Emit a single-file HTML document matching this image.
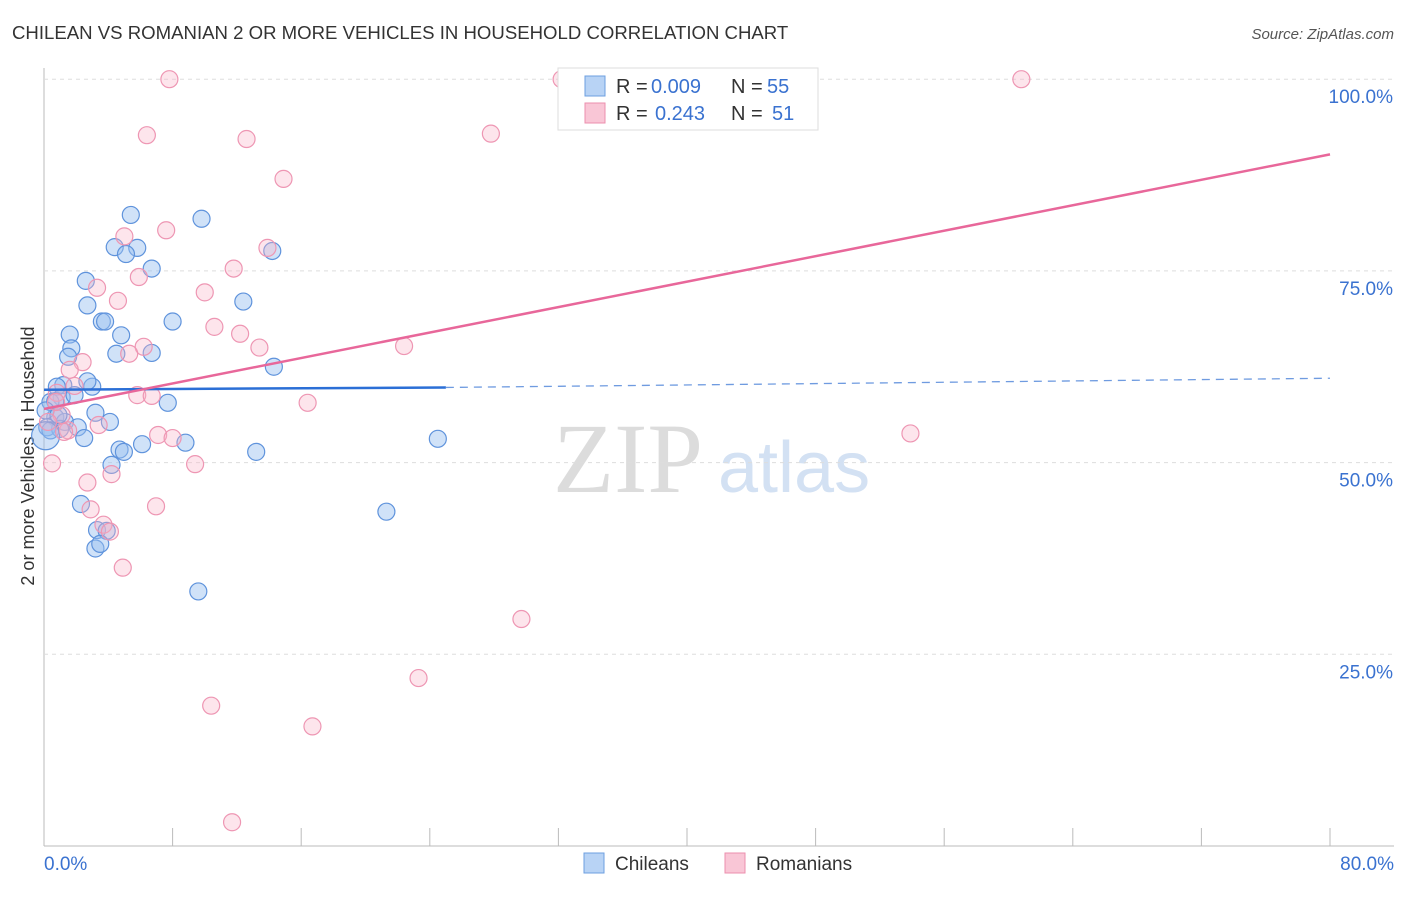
<!DOCTYPE html>
<html><head><meta charset="utf-8"><style>
body{margin:0;background:#fff;font-family:"Liberation Sans",sans-serif}
svg text{font-family:"Liberation Sans",sans-serif}
</style></head><body>
<svg id="c" width="1406" height="892">
<text x="12" y="39" font-size="18.6" fill="#333">CHILEAN VS ROMANIAN 2 OR MORE VEHICLES IN HOUSEHOLD CORRELATION CHART</text>
<text x="1394" y="39" font-size="15" fill="#555" font-style="italic" text-anchor="end">Source: ZipAtlas.com</text>
<text x="34" y="456" font-size="18" fill="#333" text-anchor="middle" transform="rotate(-90 34 456)">2 or more Vehicles in Household</text>
<text x="553" y="492" font-size="100" fill="#dcdcdc" style="font-family:'Liberation Serif',serif">ZIP</text>
<text x="718" y="492" font-size="72" fill="#d3e1f3">atlas</text>
<g id="grid"></g><g id="pts"></g><g id="lines"></g>
<g>
<rect x="558" y="68" width="260" height="62" fill="#fff" stroke="#ddd"/>
<rect x="585" y="76" width="20" height="20" fill="#b8d3f5" stroke="#6d9fe0"/>
<rect x="585" y="103" width="20" height="20" fill="#f9c6d6" stroke="#ec8fae"/>
<text x="616" y="93" font-size="20" fill="#333">R =</text>
<text x="651" y="93" font-size="20" fill="#3a72d0">0.009</text>
<text x="731" y="93" font-size="20" fill="#333">N =</text>
<text x="767" y="93" font-size="20" fill="#3a72d0">55</text>
<text x="616" y="120" font-size="20" fill="#333">R =</text>
<text x="655" y="120" font-size="20" fill="#3a72d0">0.243</text>
<text x="731" y="120" font-size="20" fill="#333">N =</text>
<text x="772" y="120" font-size="20" fill="#3a72d0">51</text>
</g>
<g>
<rect x="584" y="853" width="20" height="20" fill="#b8d3f5" stroke="#6d9fe0"/>
<text x="615" y="870" font-size="19" fill="#333">Chileans</text>
<rect x="725" y="853" width="20" height="20" fill="#f9c6d6" stroke="#ec8fae"/>
<text x="756" y="870" font-size="19" fill="#333">Romanians</text>
</g>
<text x="44" y="870" font-size="19" fill="#3a72d0">0.0%</text>
<text x="1394" y="870" font-size="19" fill="#3a72d0" text-anchor="end">80.0%</text>
</svg>
<script>
const yTicks=[25,50,75,100];
const xTicks=[0,8,16,24,32,40,48,56,64,72,80];
const chileX=[5.4,9.8,4.4,5.8,5.1,6.7,2.6,2.7,12.4,3.6,3.8,8.0,1.6,4.8,1.7,4.5,6.7,1.5,14.2,14.3,1.2,3.0,2.7,0.8,1.1,1.9,0.4,0.7,7.7,3.2,4.1,0.7,1.3,2.1,0.2,1.0,0.4,2.5,6.1,8.8,4.7,4.97,13.2,24.5,4.2,2.3,21.3,3.3,3.9,3.2,3.5,9.6,0.1,0.1,0.9];
const chileY=[82.3,81.8,78.1,78.0,77.2,75.3,73.7,70.5,71.0,68.4,68.4,68.4,66.7,66.6,64.9,64.2,64.3,63.8,77.6,62.5,60.1,59.9,60.6,59.9,58.5,58.8,57.9,58.0,57.8,56.5,55.3,55.9,55.3,54.6,54.6,54.4,54.2,53.2,52.4,52.6,51.7,51.4,51.4,53.1,49.7,44.6,43.6,41.2,41.1,38.8,39.4,33.2,53.5,56.8,56.2];
const romX=[7.8,32.2,60.8,6.4,12.6,27.8,14.9,7.6,5.0,13.9,11.8,5.9,3.3,10.0,4.6,10.6,12.2,6.2,13.4,5.3,22.4,2.4,1.6,1.9,0.8,5.8,6.7,16.4,1.1,3.4,7.1,8.0,1.5,0.5,9.4,4.2,2.7,53.9,2.9,6.97,3.7,4.1,4.9,29.7,23.3,10.4,16.7,11.7,0.75,0.25,1.25];
const romY=[100,100,100,92.7,92.2,92.9,87.0,80.3,79.5,78.0,75.3,74.2,72.8,72.2,71.1,67.7,66.8,65.1,65.0,64.2,65.2,63.1,62.1,60.0,59.1,58.8,58.7,57.8,56.2,54.9,53.6,53.2,54.2,49.9,49.8,48.5,47.4,53.8,43.9,44.3,41.9,41.0,36.3,29.6,21.9,18.3,15.6,3.1,57.9,55.3,54.0];
const blueLine=[0.0,59.5,25.0,59.8,80.0,61.0];
const pinkLine=[0.0,57.0,80.0,90.2];
const X=v=>44+v*16.075, Y=v=>846-v*7.668;
const NS='http://www.w3.org/2000/svg';
function mk(p,t,a){const e=document.createElementNS(NS,t);for(const k in a)e.setAttribute(k,a[k]);p.appendChild(e);return e;}
const g=document.getElementById('grid');
mk(g,'line',{x1:44,y1:68,x2:44,y2:846,stroke:'#bbb'});
mk(g,'line',{x1:44,y1:846,x2:1394,y2:846,stroke:'#bbb'});
yTicks.forEach(t=>{const l=mk(g,'line',{x1:44,y1:Y(t),x2:1394,y2:Y(t),stroke:'#ddd','stroke-dasharray':'4 4'});


const tx=mk(g,'text',{x:1393,y:Y(t)+24,'font-size':19,fill:'#3a72d0','text-anchor':'end'});tx.textContent=t.toFixed(1)+'%';

});
xTicks.forEach(t=>{const l=mk(g,'line',{x1:X(t),y1:828,x2:X(t),y2:846,stroke:'#bbb'});

});
const p=document.getElementById('pts');
chileX.forEach((x,i)=>{const c=mk(p,'circle',{cx:X(x),cy:Y(chileY[i]),r:i==52?14:8.5,fill:'rgba(150,190,240,0.45)',stroke:'#5f93dc','stroke-width':1.2});

});
romX.forEach((x,i)=>{const c=mk(p,'circle',{cx:X(x),cy:Y(romY[i]),r:8.5,fill:'rgba(248,180,200,0.35)',stroke:'#ee96b3','stroke-width':1.2});

});
const L=document.getElementById('lines');
let b=mk(L,'line',{x1:X(blueLine[0]),y1:Y(blueLine[1]),x2:X(blueLine[2]),y2:Y(blueLine[3]),stroke:'#2b6fd6','stroke-width':2.5});


b=mk(L,'line',{x1:X(blueLine[2]),y1:Y(blueLine[3]),x2:X(blueLine[4]),y2:Y(blueLine[5]),stroke:'#6f9be0','stroke-width':1.3,'stroke-dasharray':'8 6'});


b=mk(L,'line',{x1:X(pinkLine[0]),y1:Y(pinkLine[1]),x2:X(pinkLine[2]),y2:Y(pinkLine[3]),stroke:'#e8679a','stroke-width':2.5});


</script>
</body></html>
